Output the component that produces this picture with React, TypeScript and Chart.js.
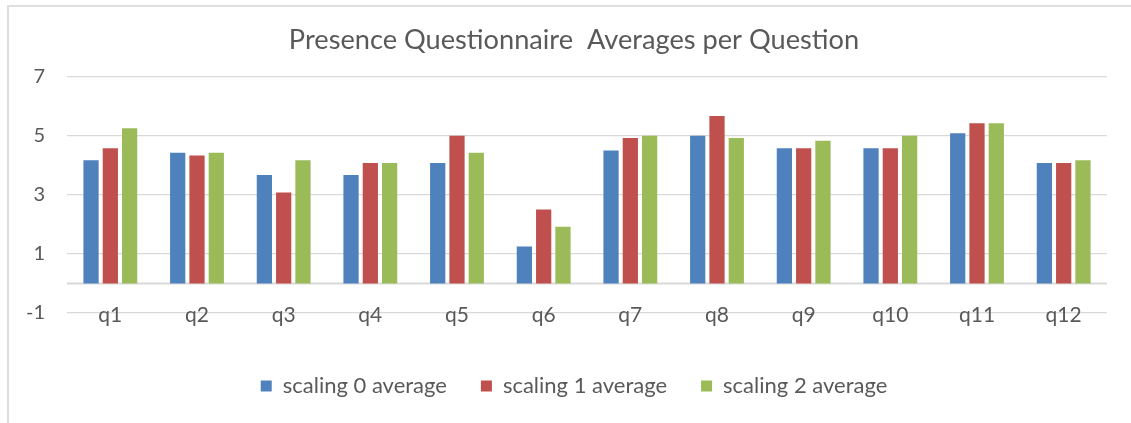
import React, { useEffect, useRef } from "react";
import { Chart, registerables } from "chart.js";

Chart.register(...registerables);

const categories = ["q1", "q2", "q3", "q4", "q5", "q6", "q7", "q8", "q9", "q10", "q11", "q12"];
const scaling0 = [4.17, 4.42, 3.67, 3.67, 4.08, 1.25, 4.5, 5.0, 4.58, 4.58, 5.08, 4.08];
const scaling1 = [4.58, 4.33, 3.08, 4.08, 5.0, 2.5, 4.92, 5.67, 4.58, 4.58, 5.42, 4.08];
const scaling2 = [5.25, 4.42, 4.17, 4.08, 4.42, 1.92, 5.0, 4.92, 4.83, 5.0, 5.42, 4.17];
const seriesNames = ["scaling 0 average", "scaling 1 average", "scaling 2 average"];
const seriesColors = ["#4F81BD", "#C0504D", "#9BBB59"];
const yTicks = [-1, 1, 3, 5, 7];
const titleText = "Presence Questionnaire  Averages per Question";

const FONT = "Lato, 'Liberation Sans', sans-serif";
const TEXT = "#595959";
const GRID = "#d9d9d9";

const zeroLine = {
  id: "zeroLine",
  beforeDatasetsDraw(chart: any) {
    const { ctx, chartArea, scales } = chart;
    const y = scales.y.getPixelForValue(0);
    ctx.save();
    ctx.strokeStyle = GRID;
    ctx.lineWidth = 2;
    ctx.beginPath();
    ctx.moveTo(chartArea.left, y);
    ctx.lineTo(chartArea.right, y);
    ctx.stroke();
    ctx.restore();
  },
};

// Category labels drawn on the lowest gridline, as in the original
const categoryLabels = {
  id: "categoryLabels",
  afterDraw(chart: any) {
    const { ctx, scales } = chart;
    const xs = scales.x;
    const yBase = scales.y.getPixelForValue(-1);
    ctx.save();
    ctx.fillStyle = TEXT;
    ctx.font = `21px ${FONT}`;
    ctx.textAlign = "center";
    ctx.textBaseline = "alphabetic";
    categories.forEach((c, i) => {
      ctx.fillText(c, xs.getPixelForValue(i), yBase + 9);
    });
    ctx.restore();
  },
};

// Title and legend are centred a bit right of the canvas centre in the original
const shiftBoxes = {
  id: "shiftBoxes",
  afterLayout(chart: any) {
    const dx = 13.5;
    [chart.titleBlock, chart.legend].forEach((b: any) => {
      if (b) {
        b.left += dx;
        b.right += dx;
      }
    });
  },
};

export default function App() {
  const ref = useRef<HTMLCanvasElement | null>(null);

  useEffect(() => {
    if (!ref.current) return;
    const values = [scaling0, scaling1, scaling2];
    const chart = new Chart(ref.current, {
      type: "bar",
      data: {
        labels: categories,
        datasets: values.map((v, i) => ({
          label: seriesNames[i],
          data: v,
          backgroundColor: seriesColors[i],
          borderWidth: 0,
          categoryPercentage: 0.668,
          barPercentage: 0.79,
        })),
      },
      options: {
        responsive: false,
        animation: false,
        layout: { padding: { left: 14, right: 24, top: 0, bottom: 16 } },
        plugins: {
          tooltip: { enabled: false },
          title: {
            display: true,
            text: titleText,
            color: TEXT,
            font: { family: FONT, size: 27.2, weight: "normal" },
            padding: { top: 24, bottom: 20 },
          },
          legend: {
            position: "bottom",
            labels: {
              color: TEXT,
              font: { family: FONT, size: 22 },
              boxWidth: 11,
              boxHeight: 11,
              padding: 34,
            },
          },
        },
        scales: {
          x: {
            grid: { display: false, drawTicks: false },
            border: { display: false },
            ticks: { display: false },
            afterFit: (scale: any) => {
              scale.height = 28;
            },
          },
          y: {
            min: -1,
            max: 7,
            afterBuildTicks: (scale: any) => {
              scale.ticks = yTicks.map((v) => ({ value: v }));
            },
            afterFit: (scale: any) => {
              scale.width = 53;
            },
            grid: { color: GRID, lineWidth: 1.3, drawTicks: false },
            border: { display: false },
            ticks: {
              color: TEXT,
              font: { family: FONT, size: 20 },
              padding: 22,
            },
          },
        },
      },
      plugins: [zeroLine, categoryLabels, shiftBoxes],
    });
    return () => chart.destroy();
  }, []);

  return (
    <div style={{ position: "absolute", left: 0, top: 0, width: 1131, height: 423, background: "#fff", overflow: "hidden" }}>
      <canvas ref={ref} width={1131} height={423} style={{ position: "absolute", left: 0, top: 0, width: 1131, height: 423 }} />
      <div style={{ position: "absolute", left: 7, top: 5, width: 1124, height: 2, background: "#dedede" }} />
      <div style={{ position: "absolute", left: 7, top: 5, width: 2, height: 418, background: "#dedede" }} />
    </div>
  );
}
